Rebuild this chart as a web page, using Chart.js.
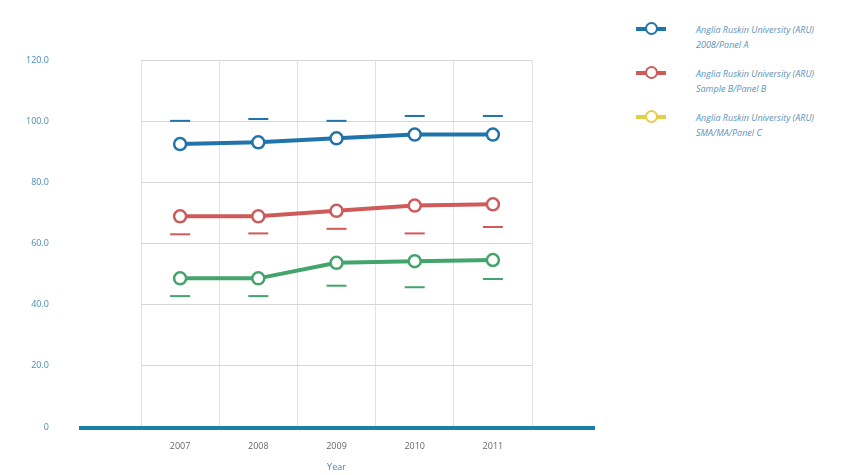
<!DOCTYPE html>
<html>
<head>
<meta charset="utf-8">
<script src="https://cdn.jsdelivr.net/npm/chart.js@4.4.1/dist/chart.umd.min.js"></script>
<style>
  body { margin: 0; background: #fff; }
  #wrap { position: relative; width: 856px; height: 475px; }
  #chartjs-0 { position: absolute; left: 0; top: 0; }
  #legend { position: absolute; left: 636px; top: 22px; width: 220px; font-family: "Open Sans", sans-serif; }
  .item { display: flex; align-items: flex-start; margin-bottom: 14px; }
  .swatch { width: 30px; height: 14px; margin-right: 30px; flex: none; position: relative; }
  .swatch .ln { position: absolute; left: 0; top: 5px; width: 30px; height: 4px; }
  .swatch .pt { position: absolute; left: 9px; top: 0; width: 9px; height: 9px; border-radius: 50%; background: #fff; border: 2.5px solid; }
  .txt { font-size: 9px; font-style: italic; color: #5b93bb; line-height: 15px; }
</style>
</head>
<body>
<div id="wrap">
  <canvas id="chartjs-0" width="620" height="475"></canvas>
  <div id="legend"></div>
</div>
<script>
// years on x axis
var years = ["2007", "2008", "2009", "2010", "2011"];
var yTicks = [0, 20, 40, 60, 80, 100, 120];

// series names (two lines each in the legend)
var names = [
    ["Anglia Ruskin University (ARU)", "2008/Panel A"],
    ["Anglia Ruskin University (ARU)", "Sample B/Panel B"],
    ["Anglia Ruskin University (ARU)", "SMA/MA/Panel C"]
];

// main values
var seriesA = [92.5, 93.1, 94.4, 95.6, 95.6];
var seriesB = [68.9, 68.9, 70.7, 72.4, 72.8];
var seriesC = [48.6, 48.6, 53.7, 54.2, 54.6];

// short dash markers under / over each point
var markA = [100.1, 100.7, 100.1, 101.7, 101.7];
var markB = [63.0, 63.3, 64.8, 63.3, 65.4];
var markC = [42.8, 42.8, 46.2, 45.7, 48.4];

var colA = "#1f74ab";
var colB = "#cf5a5a";
var colC = "#43a56c";
var legendCols = [colA, colB, "#e3cf45"];

function lineSet(label, data, color) {
    return {
        label: label,
        data: data,
        borderColor: color,
        backgroundColor: "#ffffff",
        borderWidth: 4,
        pointRadius: 6,
        pointBorderWidth: 2.5,
        pointBackgroundColor: "#ffffff",
        pointBorderColor: color,
        tension: 0,
        fill: false
    };
}

function markSet(data, color) {
    return {
        label: "mark",
        data: data,
        showLine: false,
        pointStyle: "line",
        pointRadius: 10,
        pointBorderWidth: 2,
        pointBorderColor: color,
        borderColor: color,
        backgroundColor: color
    };
}

// thick axis line under the plot, a bit longer than the plot area
var axisLine = {
    id: "axisLine",
    afterDraw: function(chart) {
        var ctx = chart.ctx;
        var y = chart.scales.y.getPixelForValue(0);
        var a = chart.chartArea;
        ctx.save();
        ctx.strokeStyle = "#1a7ea6";
        ctx.lineWidth = 4;
        ctx.beginPath();
        ctx.moveTo(a.left - 62, y + 1);
        ctx.lineTo(a.right + 63, y + 1);
        ctx.stroke();
        ctx.restore();
    }
};

var ctx0 = document.getElementById("chartjs-0");
var myChart = new Chart(ctx0, {
    type: "line",
    data: {
        labels: years,
        datasets: [
            lineSet(names[0].join(" "), seriesA, colA),
            lineSet(names[1].join(" "), seriesB, colB),
            lineSet(names[2].join(" "), seriesC, colC),
            markSet(markA, colA),
            markSet(markB, colB),
            markSet(markC, colC)
        ]
    },
    options: {
        responsive: false,
        animation: false,
        layout: { padding: { left: 14, top: 60, right: 88, bottom: 2 } },
        plugins: {
            legend: { display: false },
            tooltip: { enabled: false }
        },
        scales: {
            x: {
                offset: true,
                grid: { color: "#e2e2e2", drawTicks: false, offset: true },
                border: { display: false },
                ticks: { color: "#666", padding: 14, font: { family: "Open Sans", size: 9 } },
                title: { display: true, text: "Year", color: "#4a86b0", padding: { top: 4, bottom: 0 }, font: { family: "Open Sans", size: 9 } },
                afterFit: function(scale) { scale.height = 46; }
            },
            y: {
                min: 0,
                max: 120,
                clip: false,
                afterBuildTicks: function(scale) {
                    scale.ticks = yTicks.map(function(v) { return { value: v }; });
                },
                grid: { color: "#d6d6d6", drawTicks: false },
                border: { display: false },
                ticks: {
                    color: "#4a8cb8",
                    padding: 92,
                    font: { family: "Open Sans", size: 9 },
                    callback: function(v) { return v === 0 ? "0" : v.toFixed(1); }
                },
                afterFit: function(scale) {
                    scale.width = 127;
                    scale.paddingTop = 0;
                    scale.paddingBottom = 0;
                }
            }
        }
    },
    plugins: [axisLine]
});

// legend built from the chart's own datasets
var legendHtml = "";
for (var i = 0; i < names.length; i++) {
    legendHtml = legendHtml + "<div class='item'><div class='swatch'>" +
        "<div class='ln' style='background:" + legendCols[i] + "'></div>" +
        "<div class='pt' style='border-color:" + legendCols[i] + "'></div></div>" +
        "<div class='txt'>" + names[i][0] + "<br>" + names[i][1] + "</div></div>";
}
document.getElementById("legend").innerHTML = legendHtml;
</script>
</body>
</html>
